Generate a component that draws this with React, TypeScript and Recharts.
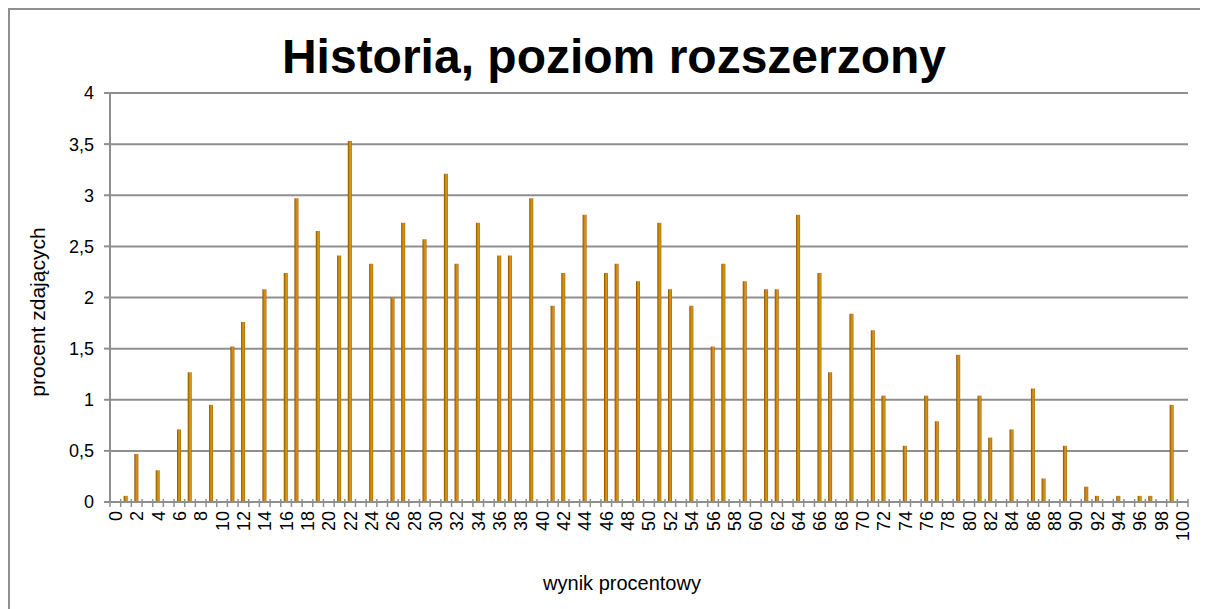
import { BarChart, Bar, XAxis, YAxis, CartesianGrid } from "recharts";

// wynik procentowy 0..100
const scores: number[] = Array.from({ length: 101 }, (_, i) => i);

// procent zdających
const percents: number[] = [
  0, 0.06, 0.47, 0, 0.31, 0, 0.71, 1.27, 0, 0.95,
  0, 1.52, 1.76, 0, 2.08, 0, 2.24, 2.97, 0, 2.65,
  0, 2.41, 3.53, 0, 2.33, 0, 2.0, 2.73, 0, 2.57,
  0, 3.21, 2.33, 0, 2.73, 0, 2.41, 2.41, 0, 2.97,
  0, 1.92, 2.24, 0, 2.81, 0, 2.24, 2.33, 0, 2.16,
  0, 2.73, 2.08, 0, 1.92, 0, 1.52, 2.33, 0, 2.16,
  0, 2.08, 2.08, 0, 2.81, 0, 2.24, 1.27, 0, 1.84,
  0, 1.68, 1.04, 0, 0.55, 0, 1.04, 0.79, 0, 1.44,
  0, 1.04, 0.63, 0, 0.71, 0, 1.11, 0.23, 0, 0.55,
  0, 0.15, 0.06, 0, 0.06, 0, 0.06, 0.06, 0, 0.95,
  0,
];

const yTicks = [0, 0.5, 1, 1.5, 2, 2.5, 3, 3.5, 4];

const data = scores.map((s, i) => ({ score: s, value: percents[i] }));

const FONT = '"Liberation Sans", Arial, sans-serif';
const GRAY = "#8f8f8f";

const W = 1198;
const H = 599;
const margin = { top: 83, right: 20, left: 0, bottom: 0 };
const yAxisWidth = 100;
const xAxisHeight = 107;
const plotWidth = W - margin.left - margin.right - yAxisWidth;
const halfBand = plotWidth / scores.length / 2;

function XTick(props: any) {
  const { x, y, payload, index } = props;
  const last = index === scores.length - 1;
  return (
    <g>
      <line x1={x - halfBand} x2={x - halfBand} y1={y - 3} y2={y + 5} stroke={GRAY} strokeWidth={1.5} />
      {last && (
        <line x1={x + halfBand} x2={x + halfBand} y1={y - 3} y2={y + 5} stroke={GRAY} strokeWidth={1.5} />
      )}
      {payload.value % 2 === 0 && (
        <g transform={`translate(${x},${y + 9})`}>
          <text
            transform="rotate(-90)"
            textAnchor="end"
            dy="0.36em"
            fontSize={18}
            fontFamily={FONT}
            fill="#000"
          >
            {payload.value}
          </text>
        </g>
      )}
    </g>
  );
}

export default function App() {
  return (
    <div
      style={{
        position: "relative",
        width: 1200,
        height: 601,
        boxSizing: "border-box",
        borderLeft: `2px solid ${GRAY}`,
        borderTop: `2px solid ${GRAY}`,
        background: "#fff",
      }}
    >
      <BarChart width={W} height={H} data={data} margin={margin} barSize={4}>
        <defs>
          <linearGradient id="barFill" x1="0" y1="0" x2="1" y2="0">
            <stop offset="0%" stopColor="#7e4a00" />
            <stop offset="35%" stopColor="#c98208" />
            <stop offset="70%" stopColor="#dc941c" />
            <stop offset="100%" stopColor="#9c6002" />
          </linearGradient>
        </defs>
        <CartesianGrid vertical={false} stroke={GRAY} strokeWidth={2} />
        <XAxis
          dataKey="score"
          height={xAxisHeight}
          interval={0}
          tickSize={0}
          tickMargin={0}
          tickLine={false}
          axisLine={{ stroke: GRAY, strokeWidth: 2 }}
          tick={<XTick />}
        />
        <YAxis
          width={yAxisWidth}
          domain={[0, 4]}
          ticks={yTicks}
          interval={0}
          tickSize={6}
          tickMargin={10}
          tickLine={{ stroke: GRAY, strokeWidth: 2 }}
          axisLine={{ stroke: GRAY, strokeWidth: 2 }}
          tick={{ fontSize: 18, fontFamily: FONT, fill: "#000" }}
          tickFormatter={(v: number) => String(v).replace(".", ",")}
        />
        <Bar dataKey="value" fill="url(#barFill)" isAnimationActive={false} />
      </BarChart>
      <svg
        width={W}
        height={H}
        style={{ position: "absolute", left: 0, top: 0, pointerEvents: "none" }}
      >
        <text x={604} y={63} textAnchor="middle" fontSize={48} fontWeight="bold" fontFamily={FONT} fill="#000">
          Historia, poziom rozszerzony
        </text>
        <text
          transform="translate(35,302) rotate(-90)"
          textAnchor="middle"
          fontSize={21}
          fontFamily={FONT}
          fill="#000"
        >
          procent zdających
        </text>
        <text x={612} y={580} textAnchor="middle" fontSize={20} fontFamily={FONT} fill="#000">
          wynik procentowy
        </text>
      </svg>
    </div>
  );
}
